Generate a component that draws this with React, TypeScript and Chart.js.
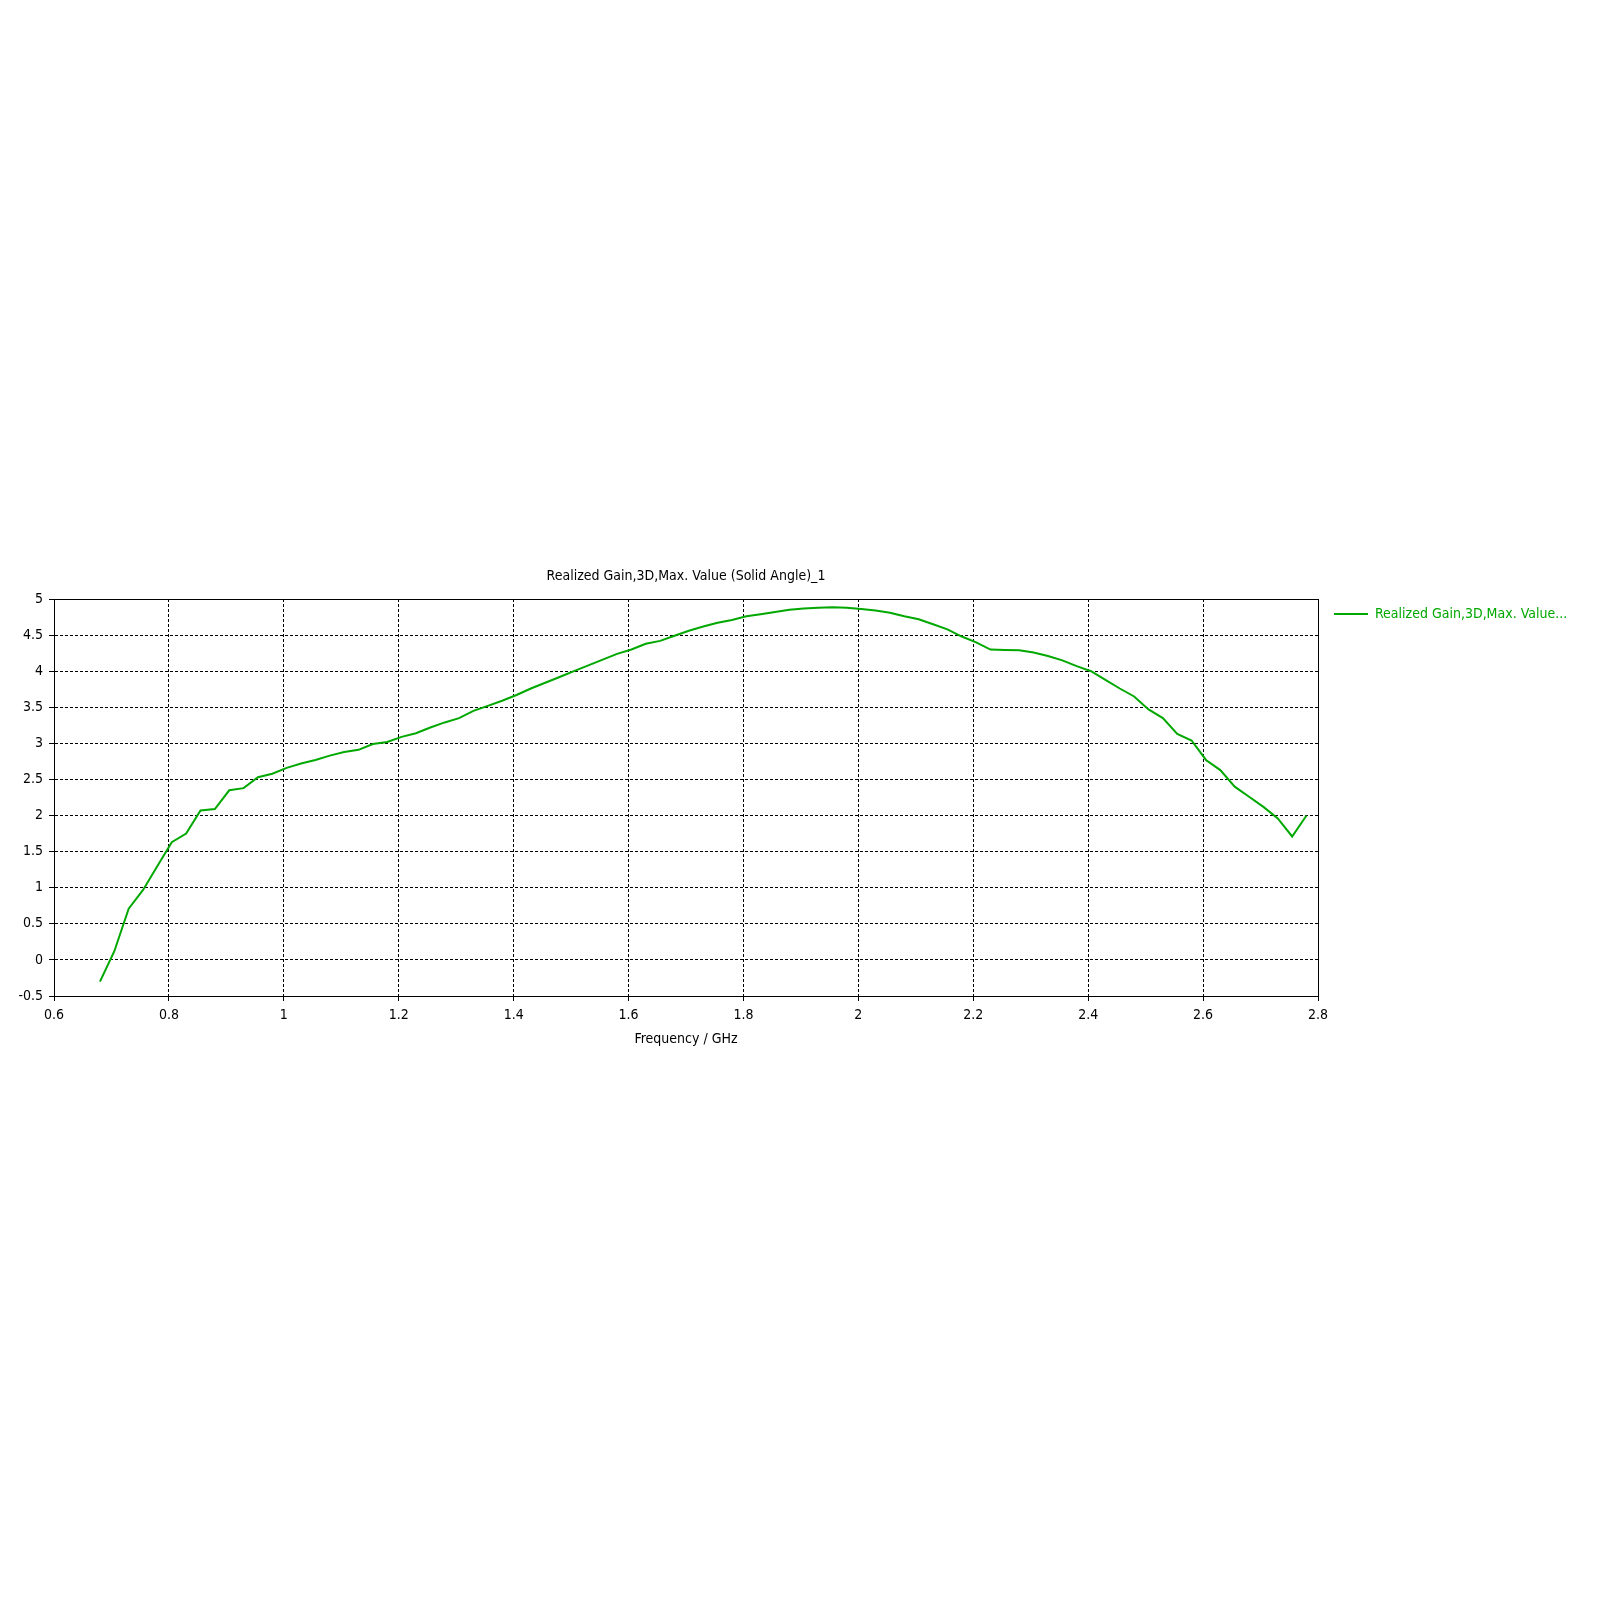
import React, { useEffect, useRef } from "react";
import { Chart, registerables } from "chart.js";

Chart.register(...registerables);

const chartTitle = "Realized Gain,3D,Max. Value (Solid Angle)_1";
const xAxisTitle = "Frequency / GHz";
const legendLabel = "Realized Gain,3D,Max. Value...";

const frequencies = [
  0.68, 0.705, 0.73, 0.755, 0.78, 0.805, 0.83, 0.855, 0.88, 0.905,
  0.93, 0.955, 0.98, 1.005, 1.03, 1.055, 1.08, 1.105, 1.13, 1.155,
  1.18, 1.205, 1.23, 1.255, 1.28, 1.305, 1.33, 1.355, 1.38, 1.405,
  1.43, 1.455, 1.48, 1.505, 1.53, 1.555, 1.58, 1.605, 1.63, 1.655,
  1.68, 1.705, 1.73, 1.755, 1.78, 1.805, 1.83, 1.855, 1.88, 1.905,
  1.93, 1.955, 1.98, 2.005, 2.03, 2.055, 2.08, 2.105, 2.13, 2.155,
  2.18, 2.205, 2.23, 2.255, 2.28, 2.305, 2.33, 2.355, 2.38, 2.405,
  2.43, 2.455, 2.48, 2.505, 2.53, 2.555, 2.58, 2.605, 2.63, 2.655,
  2.68, 2.705, 2.73, 2.755, 2.78,
];

const gain = [
  -0.3, 0.12, 0.71, 0.97, 1.3, 1.63, 1.75, 2.07, 2.09, 2.35,
  2.38, 2.53, 2.58, 2.66, 2.72, 2.77, 2.83, 2.88, 2.91, 2.99,
  3.02, 3.09, 3.14, 3.22, 3.29, 3.35, 3.45, 3.52, 3.59, 3.67,
  3.76, 3.84, 3.92, 4.0, 4.08, 4.16, 4.24, 4.3, 4.38, 4.42,
  4.49, 4.56, 4.62, 4.67, 4.71, 4.76, 4.79, 4.82, 4.85, 4.87,
  4.88, 4.885, 4.88, 4.86, 4.84, 4.81, 4.76, 4.72, 4.65, 4.58,
  4.48, 4.4, 4.3, 4.295, 4.29, 4.26, 4.21, 4.15, 4.07, 4.0,
  3.88, 3.76, 3.65, 3.47, 3.35, 3.13, 3.04, 2.77, 2.63, 2.4,
  2.26, 2.12, 1.96, 1.71, 2.0,
];

const xTickValues = [0.6, 0.8, 1.0, 1.2, 1.4, 1.6, 1.8, 2.0, 2.2, 2.4, 2.6, 2.8];
const xTickLabels = ["0.6", "0.8", "1", "1.2", "1.4", "1.6", "1.8", "2", "2.2", "2.4", "2.6", "2.8"];
const yTickValues = [-0.5, 0, 0.5, 1, 1.5, 2, 2.5, 3, 3.5, 4, 4.5, 5];
const yTickLabels = ["-0.5", "0", "0.5", "1", "1.5", "2", "2.5", "3", "3.5", "4", "4.5", "5"];

const LINE_COLOR = "rgb(0,168,0)";
const FONT_FAMILY = "'DejaVu Sans Condensed', 'DejaVu Sans', sans-serif";

const decorPlugin = {
  id: "decor",
  afterDraw(chart: any) {
    const { ctx, chartArea } = chart;
    const { left, right, top, bottom } = chartArea;
    ctx.save();
    // plot frame
    ctx.strokeStyle = "#000";
    ctx.lineWidth = 1;
    ctx.setLineDash([]);
    ctx.strokeRect(Math.round(left) + 0.5, Math.round(top) + 0.5, Math.round(right - left), Math.round(bottom - top));
    const cx = (left + right) / 2;
    // title
    ctx.fillStyle = "#000";
    ctx.font = `14px ${FONT_FAMILY}`;
    ctx.textAlign = "center";
    ctx.textBaseline = "middle";
    ctx.fillText(chartTitle, cx, top - 23);
    // x axis title
    ctx.fillText(xAxisTitle, cx, bottom + 43);
    // legend
    const ly = top + 15;
    ctx.strokeStyle = LINE_COLOR;
    ctx.lineWidth = 2;
    ctx.beginPath();
    ctx.moveTo(right + 16, ly);
    ctx.lineTo(right + 50, ly);
    ctx.stroke();
    ctx.fillStyle = LINE_COLOR;
    ctx.textAlign = "left";
    ctx.fillText(legendLabel, right + 57, ly);
    ctx.restore();
  },
};

export default function App() {
  const canvasRef = useRef<HTMLCanvasElement | null>(null);

  useEffect(() => {
    const canvas = canvasRef.current;
    if (!canvas) return;
    const chart = new Chart(canvas, {
      type: "line",
      data: {
        datasets: [
          {
            label: legendLabel,
            data: frequencies.map((f, i) => ({ x: f, y: gain[i] })),
            borderColor: LINE_COLOR,
            backgroundColor: LINE_COLOR,
            borderWidth: 2,
            pointRadius: 0,
            tension: 0,
            fill: false,
          },
        ],
      },
      options: {
        animation: false,
        responsive: false,
        devicePixelRatio: 1,
        layout: { padding: { left: 0, top: 599, right: 282, bottom: 564 } },
        plugins: {
          legend: { display: false },
          title: { display: false },
          tooltip: { enabled: false },
        },
        scales: {
          x: {
            type: "linear",
            min: 0.6,
            max: 2.8,
            afterBuildTicks: (scale: any) => {
              scale.ticks = xTickValues.map((v) => ({ value: v }));
            },
            afterFit: (scale: any) => {
              scale.height = 40;
            },
            ticks: {
              callback: (_v: any, i: number) => xTickLabels[i],
              color: "#000",
              font: { family: FONT_FAMILY, size: 14 },
              padding: 6,
              maxRotation: 0,
              autoSkip: false,
            },
            grid: {
              color: "#000",
              lineWidth: 1,
              tickLength: 5,
              tickColor: "#000",
            },
            border: { display: true, color: "#000", width: 1, dash: [3, 2] },
          },
          y: {
            type: "linear",
            min: -0.5,
            max: 5,
            afterBuildTicks: (scale: any) => {
              scale.ticks = yTickValues.map((v) => ({ value: v }));
            },
            afterFit: (scale: any) => {
              scale.width = 54;
            },
            ticks: {
              callback: (_v: any, i: number) => yTickLabels[i],
              color: "#000",
              font: { family: FONT_FAMILY, size: 14 },
              padding: 6,
              autoSkip: false,
            },
            grid: {
              color: "#000",
              lineWidth: 1,
              tickLength: 5,
              tickColor: "#000",
            },
            border: { display: true, color: "#000", width: 1, dash: [3, 2] },
          },
        },
      },
      plugins: [decorPlugin],
    });
    return () => chart.destroy();
  }, []);

  return (
    <div style={{ position: "absolute", left: 0, top: 0, width: 1600, height: 1600, background: "#fff" }}>
      <canvas ref={canvasRef} width={1600} height={1600} />
    </div>
  );
}
